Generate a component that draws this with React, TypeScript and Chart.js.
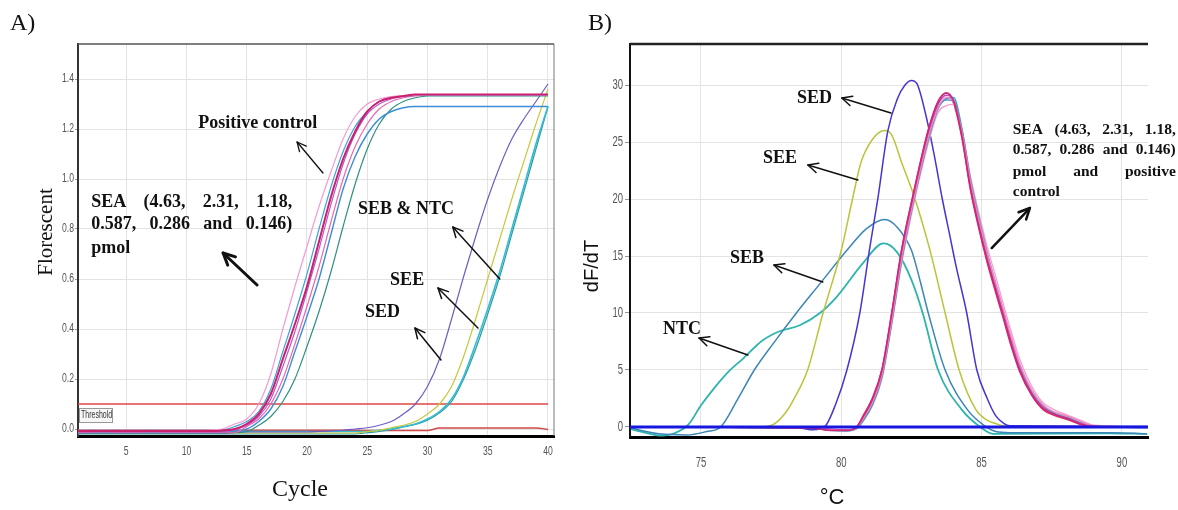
import React, { useEffect, useRef } from 'react';
import { Chart, registerables } from 'chart.js';
Chart.register(...registerables);

const SERIF = '"Liberation Serif", "Times New Roman", serif';
const TICKFONT = '"Liberation Sans", Arial, sans-serif';
const SANS = '"Liberation Sans", Arial, sans-serif';

// ---------------- Panel A: amplification curves ----------------
const CYCLES = [1, 2, 3, 4, 5, 6, 7, 8, 9, 10, 11, 12, 13, 14, 15, 16, 17, 18, 19, 20, 21, 22, 23, 24, 25, 26, 27, 28, 29, 30, 31, 32, 33, 34, 35, 36, 37, 38, 39, 40];
const A_X_TICKS = [5, 10, 15, 20, 25, 30, 35, 40];
const A_Y_TICKS = [0, 0.2, 0.4, 0.6, 0.8, 1.0, 1.2, 1.4];

const A_SEA1 = [-0.005, -0.006, -0.005, -0.006, -0.005, -0.005, -0.006, -0.005, -0.005, -0.005, -0.005, -0.004, 0.0, 0.02, 0.04, 0.10, 0.22, 0.40, 0.57, 0.73, 0.89, 1.03, 1.16, 1.25, 1.30, 1.32, 1.33, 1.333, 1.335, 1.336, 1.336, 1.336, 1.336, 1.336, 1.336, 1.336, 1.336, 1.336, 1.336, 1.336];
const A_SEA2 = [-0.01, -0.01, -0.011, -0.01, -0.01, -0.01, -0.011, -0.01, -0.01, -0.01, -0.01, -0.009, -0.005, 0.01, 0.03, 0.07, 0.16, 0.31, 0.46, 0.62, 0.80, 0.97, 1.11, 1.21, 1.27, 1.31, 1.325, 1.332, 1.334, 1.334, 1.334, 1.334, 1.334, 1.334, 1.334, 1.334, 1.334, 1.334, 1.334, 1.334];
const A_SEA3 = [-0.008, -0.008, -0.008, -0.008, -0.008, -0.008, -0.008, -0.008, -0.008, -0.008, -0.008, -0.008, -0.006, 0.0, 0.02, 0.06, 0.14, 0.28, 0.42, 0.57, 0.75, 0.93, 1.08, 1.19, 1.27, 1.31, 1.325, 1.332, 1.338, 1.338, 1.338, 1.338, 1.338, 1.338, 1.338, 1.338, 1.338, 1.338, 1.338, 1.338];
const A_SEA4 = [-0.012, -0.012, -0.012, -0.012, -0.012, -0.012, -0.012, -0.012, -0.012, -0.012, -0.012, -0.012, -0.012, -0.003, 0.015, 0.05, 0.12, 0.25, 0.39, 0.55, 0.72, 0.90, 1.06, 1.18, 1.26, 1.30, 1.32, 1.33, 1.335, 1.335, 1.335, 1.335, 1.335, 1.335, 1.335, 1.335, 1.335, 1.335, 1.335, 1.335];
const A_SEA5 = [-0.015, -0.015, -0.015, -0.015, -0.015, -0.015, -0.015, -0.015, -0.015, -0.015, -0.015, -0.015, -0.015, -0.015, 0.01, 0.04, 0.10, 0.20, 0.34, 0.49, 0.65, 0.83, 1.00, 1.13, 1.22, 1.28, 1.31, 1.325, 1.332, 1.336, 1.336, 1.336, 1.336, 1.336, 1.336, 1.336, 1.336, 1.336, 1.336, 1.336];
const A_SEA6 = [-0.006, -0.006, -0.006, -0.006, -0.006, -0.006, -0.006, -0.006, -0.006, -0.006, -0.006, -0.006, -0.006, -0.006, 0.0, 0.03, 0.08, 0.17, 0.31, 0.45, 0.60, 0.78, 0.96, 1.09, 1.18, 1.24, 1.27, 1.285, 1.29, 1.29, 1.29, 1.29, 1.29, 1.29, 1.29, 1.29, 1.29, 1.29, 1.29, 1.29];
const A_POS = [-0.018, -0.018, -0.018, -0.018, -0.018, -0.018, -0.018, -0.018, -0.018, -0.018, -0.018, -0.018, -0.018, -0.015, -0.01, 0.015, 0.05, 0.11, 0.20, 0.33, 0.47, 0.63, 0.81, 0.98, 1.12, 1.22, 1.28, 1.31, 1.325, 1.332, 1.332, 1.332, 1.332, 1.332, 1.332, 1.332, 1.332, 1.332, 1.332, 1.332];
const A_SED = [-0.012, -0.012, -0.012, -0.012, -0.012, -0.012, -0.012, -0.012, -0.012, -0.012, -0.012, -0.012, -0.012, -0.012, -0.012, -0.012, -0.012, -0.012, -0.012, -0.012, -0.01, -0.008, -0.005, 0.0, 0.005, 0.015, 0.03, 0.06, 0.10, 0.17, 0.28, 0.44, 0.61, 0.77, 0.92, 1.05, 1.16, 1.24, 1.31, 1.38];
const A_SEE = [-0.016, -0.016, -0.016, -0.016, -0.016, -0.016, -0.016, -0.016, -0.016, -0.016, -0.016, -0.016, -0.016, -0.016, -0.016, -0.016, -0.016, -0.016, -0.016, -0.016, -0.016, -0.016, -0.016, -0.016, -0.01, -0.005, 0.005, 0.015, 0.03, 0.06, 0.10, 0.17, 0.29, 0.44, 0.60, 0.76, 0.92, 1.07, 1.22, 1.36];
const A_SEB = [-0.01, -0.01, -0.01, -0.01, -0.01, -0.01, -0.01, -0.01, -0.01, -0.01, -0.01, -0.01, -0.01, -0.01, -0.01, -0.01, -0.01, -0.01, -0.01, -0.01, -0.01, -0.01, -0.01, -0.01, -0.01, -0.005, 0.0, 0.01, 0.02, 0.04, 0.07, 0.12, 0.21, 0.34, 0.48, 0.63, 0.80, 0.97, 1.14, 1.29];
const A_NTC = [-0.02, -0.02, -0.02, -0.02, -0.02, -0.02, -0.02, -0.02, -0.02, -0.02, -0.02, -0.02, -0.02, -0.02, -0.02, -0.02, -0.02, -0.02, -0.02, -0.02, -0.02, -0.02, -0.02, -0.02, -0.015, -0.01, -0.002, 0.008, 0.018, 0.035, 0.065, 0.11, 0.20, 0.32, 0.46, 0.61, 0.78, 0.95, 1.12, 1.29];
const A_NEG = [-0.005, -0.005, -0.005, -0.005, -0.005, -0.005, -0.005, -0.005, -0.005, -0.005, -0.005, -0.005, -0.005, -0.005, -0.005, -0.005, -0.005, -0.005, -0.005, -0.005, -0.005, -0.005, -0.005, -0.005, -0.006, -0.006, -0.006, -0.006, -0.006, -0.006, 0.004, 0.004, 0.004, 0.004, 0.004, 0.004, 0.004, 0.004, 0.004, -0.002];
const A_THR_C = [1, 40];
const A_THR_V = [0.1, 0.1];

// ---------------- Panel B: melt curves ----------------
const B_X_TICKS = [75, 80, 85, 90];
const B_Y_TICKS = [0, 5, 10, 15, 20, 25, 30];

const B_SEA_T = [72.5, 79.0, 79.6, 80.2, 80.55, 80.8, 81.1, 81.45, 81.8, 82.15, 82.55, 83.1, 83.45, 83.75, 84.0, 84.3, 84.6, 84.9, 85.2, 85.5, 85.75, 86.05, 86.35, 86.8, 87.2, 87.6, 88.1, 88.6, 89.0, 90.9];
const B_SEA1 = [0.0, -0.1, -0.3, -0.3, 0.0, 1.0, 2.4, 5.0, 10.0, 15.5, 20.2, 26.0, 28.5, 29.3, 28.6, 25.5, 21.0, 17.6, 14.6, 12.0, 9.9, 7.3, 5.0, 2.8, 1.6, 1.1, 0.7, 0.2, 0.05, 0.0];
const B_SEA2 = [0.0, -0.1, -0.25, -0.3, -0.1, 0.8, 2.1, 4.6, 9.4, 14.8, 19.6, 25.4, 28.0, 28.9, 28.5, 25.9, 21.6, 18.2, 15.2, 12.6, 10.5, 7.9, 5.6, 3.2, 1.9, 1.3, 0.9, 0.4, 0.1, 0.0];
const B_SEA3 = [0.0, -0.05, -0.2, -0.25, 0.0, 0.9, 2.3, 4.9, 9.8, 15.3, 20.0, 25.7, 28.3, 29.1, 28.7, 25.7, 21.2, 17.8, 14.8, 12.2, 10.1, 7.5, 5.2, 2.9, 1.7, 1.1, 0.7, 0.25, 0.05, 0.0];
const B_SEA4 = [0.0, -0.1, -0.3, -0.35, -0.15, 0.6, 1.9, 4.4, 9.2, 14.6, 19.5, 25.2, 27.9, 28.8, 28.9, 26.2, 21.8, 18.4, 15.3, 12.6, 10.4, 7.8, 5.4, 3.0, 1.8, 1.2, 0.8, 0.3, 0.1, -0.05];
const B_SEA5 = [0.0, -0.1, -0.25, -0.3, -0.1, 0.7, 2.0, 4.5, 9.3, 14.7, 19.6, 25.3, 28.0, 28.7, 28.6, 26.0, 21.5, 18.0, 15.0, 12.4, 10.2, 7.6, 5.3, 2.9, 1.7, 1.1, 0.7, 0.3, 0.05, -0.05];
const B_SEA6 = [0.0, -0.1, -0.2, -0.25, -0.1, 0.6, 1.8, 4.2, 9.0, 14.3, 19.2, 24.9, 27.6, 28.2, 28.3, 26.0, 22.0, 18.8, 15.8, 13.2, 11.0, 8.4, 6.0, 3.5, 2.1, 1.5, 1.0, 0.5, 0.15, 0.0];
const B_POS = [0.0, -0.1, -0.3, -0.3, 0.0, 1.1, 2.5, 5.1, 10.1, 15.6, 20.3, 26.1, 28.6, 29.3, 28.4, 25.3, 20.8, 17.4, 14.4, 11.8, 9.7, 7.1, 4.9, 2.7, 1.5, 1.0, 0.6, 0.15, 0.0, 0.0];

const B_SED_T = [72.5, 78.5, 79.0, 79.4, 79.8, 80.2, 80.66, 81.0, 81.3, 81.66, 82.0, 82.27, 82.5, 82.7, 83.0, 83.3, 83.6, 83.85, 84.1, 84.47, 84.83, 85.2, 85.5, 85.8, 86.0, 90.9];
const B_SED_V = [0.0, -0.1, -0.25, 0.0, 2.0, 5.0, 10.0, 15.5, 20.0, 26.0, 28.8, 30.0, 30.4, 30.1, 27.5, 24.0, 20.0, 17.0, 14.0, 10.0, 5.0, 2.5, 1.0, 0.3, 0.1, 0.05];
const B_SEE_T = [72.5, 77.0, 77.56, 78.0, 78.3, 78.8, 79.35, 80.0, 80.4, 80.7, 81.1, 81.55, 81.8, 82.15, 82.6, 83.15, 83.7, 84.2, 84.8, 85.2, 85.5, 85.8, 90.9];
const B_SEE_V = [0.0, 0.0, 0.2, 1.2, 2.4, 5.0, 10.0, 15.5, 20.0, 23.2, 25.2, 26.0, 25.6, 23.2, 20.2, 15.6, 10.0, 5.0, 1.5, 0.6, 0.3, 0.1, 0.0];
const B_SEB_T = [72.5, 73.5, 74.5, 75.2, 75.7, 76.3, 76.9, 77.6, 78.4, 79.25, 80.2, 80.9, 81.55, 82.0, 82.5, 82.8, 83.1, 83.7, 84.5, 85.05, 85.5, 86.0, 89.5, 90.9];
const B_SEB_V = [-0.1, -0.6, -0.7, -0.4, 0.0, 2.4, 5.0, 7.4, 10.0, 12.6, 15.5, 17.4, 18.2, 17.5, 15.5, 12.9, 10.0, 5.0, 1.5, 0.2, -0.4, -0.5, -0.5, -0.6];
const B_NTC_T = [72.5, 73.0, 73.5, 74.0, 74.55, 75.0, 75.5, 76.0, 76.5, 77.2, 77.8, 78.5, 79.24, 79.83, 80.78, 81.5, 82.0, 82.5, 82.9, 83.45, 84.3, 84.95, 85.4, 89.5, 90.9];
const B_NTC_V = [-0.2, -0.5, -0.75, -0.6, 0.2, 1.9, 3.5, 4.9, 6.0, 7.6, 8.4, 8.9, 10.0, 11.4, 14.4, 16.1, 15.3, 12.9, 10.0, 5.0, 1.5, 0.0, -0.6, -0.55, -0.6];
const B_ZERO_T = [72.47, 90.93];
const B_ZERO_V = [0, 0];

// ---------------- annotations (data coordinates) ----------------
type TextAnn = { x: number; y: number; text: string };
type BlockAnn = { x1: number; x2: number; ys: number[]; lines: string[]; justify: boolean[] };
type ArrowAnn = { x1: number; y1: number; x2: number; y2: number; w: number; head: number };
type TickStyle = { size: number; xOff: number; yOff: number; squeeze: number; fmtX: (v: number) => string; fmtY: (v: number) => string };
type PanelAnn = {
  font: string;
  blockFont: string;
  texts: TextAnn[];
  block: BlockAnn;
  arrows: ArrowAnn[];
  ticks: TickStyle;
  top?: [string, number];
  right?: [string, number];
  threshold?: number;
};

const ANN_A: PanelAnn = {
  font: `bold 18px ${SERIF}`,
  blockFont: `bold 18px ${SERIF}`,
  texts: [
    { x: 10.97, y: 1.224, text: 'Positive control' },
    { x: 24.24, y: 0.88, text: 'SEB & NTC' },
    { x: 26.9, y: 0.596, text: 'SEE' },
    { x: 24.82, y: 0.468, text: 'SED' },
  ],
  block: {
    x1: 2.1, x2: 18.77, ys: [0.908, 0.82, 0.724],
    lines: ['SEA (4.63, 2.31, 1.18,', '0.587, 0.286 and 0.146)', 'pmol'],
    justify: [true, true, false],
  },
  arrows: [
    { x1: 21.33, y1: 1.024, x2: 19.18, y2: 1.148, w: 1.3, head: 10 },
    { x1: 15.86, y1: 0.576, x2: 13.04, y2: 0.704, w: 3, head: 13 },
    { x1: 36.0, y1: 0.6, x2: 32.1, y2: 0.808, w: 1.5, head: 11 },
    { x1: 34.19, y1: 0.404, x2: 30.87, y2: 0.564, w: 1.5, head: 11 },
    { x1: 31.12, y1: 0.276, x2: 28.96, y2: 0.404, w: 1.5, head: 11 },
  ],
  ticks: { size: 12, xOff: 16, yOff: 4, squeeze: 0.72, fmtX: (v) => String(v), fmtY: (v) => v.toFixed(1) },
  top: ['#555', 1.5],
  right: ['#777', 1],
  threshold: 0.1,
};

const ANN_B: PanelAnn = {
  font: `bold 18px ${SERIF}`,
  blockFont: `bold 15.5px ${SERIF}`,
  texts: [
    { x: 78.42, y: 28.86, text: 'SED' },
    { x: 77.21, y: 23.6, text: 'SEE' },
    { x: 76.03, y: 14.82, text: 'SEB' },
    { x: 73.65, y: 8.6, text: 'NTC' },
  ],
  block: {
    x1: 86.11, x2: 91.92, ys: [26.05, 24.3, 22.37, 20.6],
    lines: ['SEA (4.63, 2.31, 1.18,', '0.587, 0.286 and 0.146)', 'pmol and positive', 'control'],
    justify: [true, true, true, false],
  },
  arrows: [
    { x1: 81.77, y1: 27.54, x2: 80.02, y2: 28.86, w: 1.5, head: 11 },
    { x1: 80.59, y1: 21.67, x2: 78.81, y2: 22.98, w: 1.5, head: 11 },
    { x1: 79.34, y1: 12.72, x2: 77.6, y2: 14.21, w: 1.5, head: 11 },
    { x1: 76.67, y1: 6.32, x2: 74.93, y2: 7.81, w: 1.5, head: 11 },
    { x1: 85.36, y1: 15.7, x2: 86.72, y2: 19.21, w: 2.5, head: 12 },
  ],
  ticks: { size: 14, xOff: 26, yOff: 7, squeeze: 0.68, fmtX: (v) => String(v), fmtY: (v) => String(v) },
  top: ['#222', 2.5],
};

function drawArrow(ctx: CanvasRenderingContext2D, x1: number, y1: number, x2: number, y2: number, w: number, head: number) {
  ctx.strokeStyle = '#111';
  ctx.lineWidth = w;
  ctx.lineCap = 'round';
  ctx.lineJoin = 'round';
  ctx.beginPath();
  ctx.moveTo(x1, y1);
  ctx.lineTo(x2, y2);
  ctx.stroke();
  const a = Math.atan2(y2 - y1, x2 - x1);
  ctx.beginPath();
  ctx.moveTo(x2 - head * Math.cos(a - 0.45), y2 - head * Math.sin(a - 0.45));
  ctx.lineTo(x2, y2);
  ctx.lineTo(x2 - head * Math.cos(a + 0.45), y2 - head * Math.sin(a + 0.45));
  ctx.stroke();
}

function squeezedText(ctx: CanvasRenderingContext2D, text: string, x: number, y: number, sq: number, align: 'center' | 'right') {
  ctx.save();
  ctx.translate(x, y);
  ctx.scale(sq, 1);
  ctx.textAlign = align;
  ctx.textBaseline = 'middle';
  ctx.fillText(text, 0, 0);
  ctx.restore();
}

function annPlugin(id: string, ann: PanelAnn) {
  return {
    id,
    afterDraw(chart: any) {
      const ctx = chart.ctx as CanvasRenderingContext2D;
      const sx = chart.scales.x;
      const sy = chart.scales.y;
      const area = chart.chartArea;
      const px = (v: number) => sx.getPixelForValue(v);
      const py = (v: number) => sy.getPixelForValue(v);
      ctx.save();
      // tick labels (condensed)
      ctx.fillStyle = '#555';
      ctx.font = `${ann.ticks.size}px ${TICKFONT}`;
      for (const t of sx.ticks) squeezedText(ctx, ann.ticks.fmtX(t.value), px(t.value), area.bottom + ann.ticks.xOff, ann.ticks.squeeze, 'center');
      for (const t of sy.ticks) squeezedText(ctx, ann.ticks.fmtY(t.value), area.left - ann.ticks.yOff, py(t.value), ann.ticks.squeeze, 'right');
      if (ann.top) {
        ctx.strokeStyle = ann.top[0];
        ctx.lineWidth = ann.top[1];
        ctx.beginPath();
        ctx.moveTo(area.left, area.top);
        ctx.lineTo(area.right, area.top);
        ctx.stroke();
      }
      if (ann.right) {
        ctx.strokeStyle = ann.right[0];
        ctx.lineWidth = ann.right[1];
        ctx.beginPath();
        ctx.moveTo(area.right, area.top);
        ctx.lineTo(area.right, area.bottom);
        ctx.stroke();
      }
      if (ann.threshold !== undefined) {
        const ty = py(ann.threshold) + 4;
        const tx = area.left + 1;
        ctx.fillStyle = '#f7f7f7';
        ctx.fillRect(tx, ty, 33, 14);
        ctx.strokeStyle = '#999';
        ctx.lineWidth = 1;
        ctx.strokeRect(tx + 0.5, ty + 0.5, 33, 14);
        ctx.fillStyle = '#333';
        ctx.font = `10px ${TICKFONT}`;
        ctx.save();
        ctx.translate(tx + 2, ty + 7.5);
        ctx.scale(0.7, 1);
        ctx.textBaseline = 'middle';
        ctx.textAlign = 'left';
        ctx.fillText('Threshold', 0, 0);
        ctx.restore();
      }
      ctx.fillStyle = '#111';
      ctx.textBaseline = 'middle';
      ctx.textAlign = 'left';
      ctx.font = ann.font;
      for (const t of ann.texts) ctx.fillText(t.text, px(t.x), py(t.y));
      ctx.font = ann.blockFont;
      const b = ann.block;
      const left = px(b.x1);
      const right = px(b.x2);
      b.lines.forEach((line, i) => {
        const y = py(b.ys[i]);
        if (!b.justify[i]) {
          ctx.fillText(line, left, y);
          return;
        }
        const words = line.split(' ');
        const widths = words.map((w) => ctx.measureText(w).width);
        const total = widths.reduce((s, v) => s + v, 0);
        const gap = words.length > 1 ? (right - left - total) / (words.length - 1) : 0;
        let x = left;
        words.forEach((w, k) => {
          ctx.fillText(w, x, y);
          x += widths[k] + gap;
        });
      });
      for (const a of ann.arrows) drawArrow(ctx, px(a.x1), py(a.y1), px(a.x2), py(a.y2), a.w, a.head);
      ctx.restore();
    },
  };
}

function pts(xs: number[], ys: number[]) {
  return xs.map((x, i) => ({ x, y: ys[i] }));
}

function line(xs: number[], ys: number[], color: string, width: number) {
  return {
    data: pts(xs, ys),
    borderColor: color,
    backgroundColor: color,
    borderWidth: width,
    pointRadius: 0,
    fill: false,
    cubicInterpolationMode: 'monotone' as const,
  };
}

function scales(opts: {
  xmin: number; xmax: number; ymin: number; ymax: number;
  xt: number[]; yt: number[];
  yw: number; xh: number; yTickLen: number; leftBorder: [string, number];
}) {
  return {
    x: {
      type: 'linear',
      bounds: 'data',
      min: opts.xmin,
      max: opts.xmax,
      afterBuildTicks: (s: any) => { s.ticks = opts.xt.map((v) => ({ value: v })); },
      afterFit: (s: any) => { s.height = opts.xh; s.paddingLeft = 0; s.paddingRight = 0; },
      grid: { color: '#e3e3e3', lineWidth: 1, drawTicks: false },
      border: { display: true, color: '#000', width: 3 },
      ticks: { display: false, autoSkip: false },
    },
    y: {
      type: 'linear',
      bounds: 'data',
      min: opts.ymin,
      max: opts.ymax,
      afterBuildTicks: (s: any) => { s.ticks = opts.yt.map((v) => ({ value: v })); },
      afterFit: (s: any) => { s.width = opts.yw; s.paddingTop = 0; s.paddingBottom = 0; },
      grid: { color: '#e3e3e3', lineWidth: 1, drawTicks: true, tickLength: opts.yTickLen, tickColor: '#999' },
      border: { display: true, color: opts.leftBorder[0], width: opts.leftBorder[1] },
      ticks: { display: false, autoSkip: false },
    },
  };
}

export default function App() {
  const refA = useRef<HTMLCanvasElement>(null);
  const refB = useRef<HTMLCanvasElement>(null);

  useEffect(() => {
    const chartA = new Chart(refA.current as HTMLCanvasElement, {
      type: 'line',
      data: {
        datasets: [
          line(CYCLES, A_SEA3, '#cc1f6c', 2),
          line(CYCLES, A_SEA1, '#f39bd3', 1.2),
          line(CYCLES, A_SEA2, '#3fa2dd', 1.2),
          line(CYCLES, A_SEA4, '#b35bc9', 1.2),
          line(CYCLES, A_SEA5, '#e668b4', 1.2),
          line(CYCLES, A_SEA6, '#3b8fd8', 1.4),
          line(CYCLES, A_POS, '#2f8f7f', 1.2),
          line(CYCLES, A_SED, '#6f5dc6', 1.2),
          line(CYCLES, A_SEE, '#c5c83b', 1.2),
          line(CYCLES, A_SEB, '#33bdd1', 1.6),
          line(CYCLES, A_NTC, '#2a9aa2', 1.2),
          line(CYCLES, A_NEG, '#d04848', 1.4),
          line(A_THR_C, A_THR_V, '#e24545', 1.5),
        ] as any,
      },
      options: {
        responsive: false,
        animation: false,
        devicePixelRatio: 1,
        events: [],
        layout: { padding: { left: 38, right: 26, top: 44, bottom: 44 } },
        plugins: { legend: { display: false }, tooltip: { enabled: false }, title: { display: false } },
        scales: scales({
          xmin: 1, xmax: 40.5, ymin: -0.028, ymax: 1.54,
          xt: A_X_TICKS, yt: A_Y_TICKS,
          yw: 40, xh: 30, yTickLen: 3, leftBorder: ['#333', 2],
        }) as any,
      },
      plugins: [annPlugin('annA', ANN_A)],
    } as any);

    const chartB = new Chart(refB.current as HTMLCanvasElement, {
      type: 'line',
      data: {
        datasets: [
          line(B_ZERO_T, B_ZERO_V, '#1717e0', 3),
          line(B_SEA_T, B_SEA1, '#d4237a', 1.6),
          line(B_SEA_T, B_SEA2, '#ef7fc4', 1.4),
          line(B_SEA_T, B_SEA3, '#b24fc6', 1.4),
          line(B_SEA_T, B_SEA4, '#2ea9b3', 1.4),
          line(B_SEA_T, B_SEA5, '#4b78c8', 1.4),
          line(B_SEA_T, B_SEA6, '#f4a3cf', 1.4),
          line(B_SEA_T, B_POS, '#e0335a', 1.4),
          line(B_SED_T, B_SED_V, '#4536d0', 1.5),
          line(B_SEE_T, B_SEE_V, '#b9c43a', 1.5),
          line(B_SEB_T, B_SEB_V, '#3c86b6', 1.5),
          line(B_NTC_T, B_NTC_V, '#2db4ac', 1.8),
        ] as any,
      },
      options: {
        responsive: false,
        animation: false,
        devicePixelRatio: 1,
        events: [],
        layout: { padding: { left: 20, right: 30, top: 44, bottom: 33 } },
        plugins: { legend: { display: false }, tooltip: { enabled: false }, title: { display: false } },
        scales: scales({
          xmin: 72.47, xmax: 90.93, ymin: -0.88, ymax: 33.6,
          xt: B_X_TICKS, yt: B_Y_TICKS,
          yw: 30, xh: 40, yTickLen: 5, leftBorder: ['#111', 2],
        }) as any,
      },
      plugins: [annPlugin('annB', ANN_B)],
    } as any);

    return () => {
      chartA.destroy();
      chartB.destroy();
    };
  }, []);

  const abs: React.CSSProperties = { position: 'absolute', whiteSpace: 'nowrap', lineHeight: 1, color: '#111' };

  return (
    <div style={{ position: 'absolute', left: 0, top: 0, width: 1178, height: 510, background: '#fff', overflow: 'hidden' }}>
      <canvas ref={refA} width={580} height={510} style={{ position: 'absolute', left: 0, top: 0, width: 580, height: 510 }} />
      <canvas ref={refB} width={598} height={510} style={{ position: 'absolute', left: 580, top: 0, width: 598, height: 510 }} />
      <div style={{ ...abs, left: 10, top: 10, fontFamily: SERIF, fontSize: 24 }}>A)</div>
      <div style={{ ...abs, left: 588, top: 10, fontFamily: SERIF, fontSize: 24 }}>B)</div>
      <div style={{ ...abs, left: 45, top: 232, fontFamily: SERIF, fontSize: 21, transform: 'translate(-50%, -50%) rotate(-90deg)' }}>Florescent</div>
      <div style={{ ...abs, left: 300, top: 488, fontFamily: SERIF, fontSize: 24, transform: 'translate(-50%, -50%)' }}>Cycle</div>
      <div style={{ ...abs, left: 591, top: 266, fontFamily: SANS, fontSize: 20, transform: 'translate(-50%, -50%) rotate(-90deg)' }}>dF/dT</div>
      <div style={{ ...abs, left: 832, top: 497, fontFamily: SANS, fontSize: 22, transform: 'translate(-50%, -50%)' }}>°C</div>
    </div>
  );
}
